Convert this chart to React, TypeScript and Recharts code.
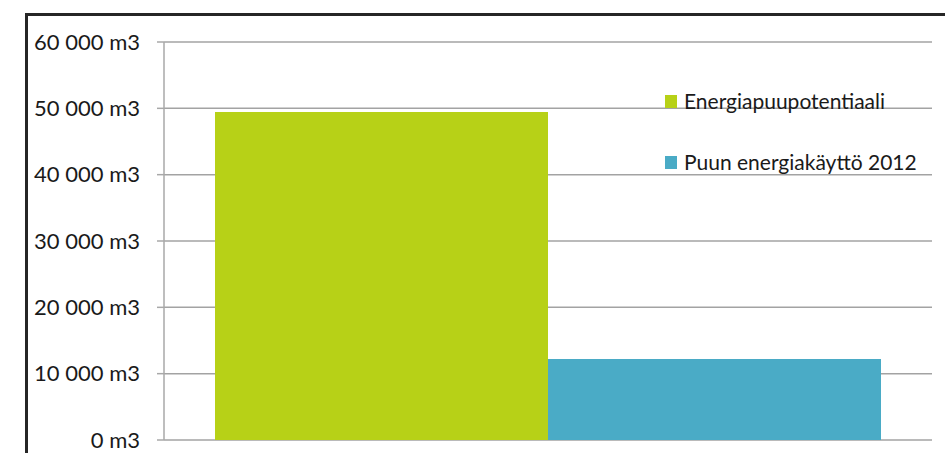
import React from 'react';
import { BarChart, Bar, XAxis, YAxis, CartesianGrid, Legend } from 'recharts';

const categories = [''];
const potentialValues = [49450];
const usageValues = [12200];
const seriesNames = ['Energiapuupotentiaali', 'Puun energiakäyttö 2012'];
const yTicks = [0, 10000, 20000, 30000, 40000, 50000, 60000];

const data = categories.map((c, i) => ({
  name: c,
  potential: potentialValues[i],
  usage: usageValues[i],
}));

const formatTick = (v: number) => {
  const s = String(v).replace(/\B(?=(\d{3})+(?!\d))/g, ' ');
  return `${s} m3`;
};

const FONT = 'Lato, "Open Sans", sans-serif';

const renderLegend = (props: any) => {
  const payload = props.payload || [];
  return (
    <div style={{ position: 'relative', width: 280, height: 100, fontFamily: FONT }}>
      {payload.map((entry: any, i: number) => (
        <div
          key={i}
          style={{ position: 'absolute', left: 0, top: i * 61, height: 26, display: 'flex', alignItems: 'center' }}
        >
          <div style={{ width: 12, height: 13, background: entry.color, marginRight: 7 }} />
          <span style={{ fontSize: 21, color: '#1a1a1a', lineHeight: '26px', whiteSpace: 'nowrap' }}>{entry.value}</span>
        </div>
      ))}
    </div>
  );
};

export default function App() {
  return (
    <div style={{ position: 'absolute', left: 0, top: 0, width: 945, height: 453, background: '#fff', overflow: 'hidden', fontFamily: FONT }}>
      <div
        style={{
          position: 'absolute',
          left: 25,
          top: 13,
          width: 940,
          height: 460,
          borderTop: '3px solid #262626',
          borderLeft: '3px solid #262626',
        }}
      />
      <div style={{ position: 'absolute', left: 0, top: 0 }}>
        <BarChart
          width={945}
          height={453}
          data={data}
          margin={{ top: 42, right: 13, bottom: 13, left: 0 }}
          barCategoryGap={51}
          barGap={0}
        >
          <CartesianGrid horizontal vertical={false} stroke="#a3a3a3" strokeWidth={1.5} />
          <XAxis dataKey="name" hide />
          <YAxis
            width={164}
            domain={[0, 60000]}
            ticks={yTicks}
            interval={0}
            tickFormatter={formatTick}
            axisLine={{ stroke: '#a8a8a8', strokeWidth: 1.5 }}
            tickLine={{ stroke: '#a8a8a8', strokeWidth: 1.5 }}
            tickSize={7}
            tickMargin={17}
            tick={{ fill: '#1a1a1a', fontSize: 22, fontFamily: FONT }}
          />
          <Legend
            layout="horizontal"
            verticalAlign="middle"
            align="center"
            content={renderLegend}
            wrapperStyle={{ left: 665, top: 88, width: 280, height: 100 }}
          />
          <Bar dataKey="potential" name={seriesNames[0]} fill="#b7d117" isAnimationActive={false} />
          <Bar dataKey="usage" name={seriesNames[1]} fill="#4aabc6" isAnimationActive={false} />
        </BarChart>
      </div>
    </div>
  );
}
